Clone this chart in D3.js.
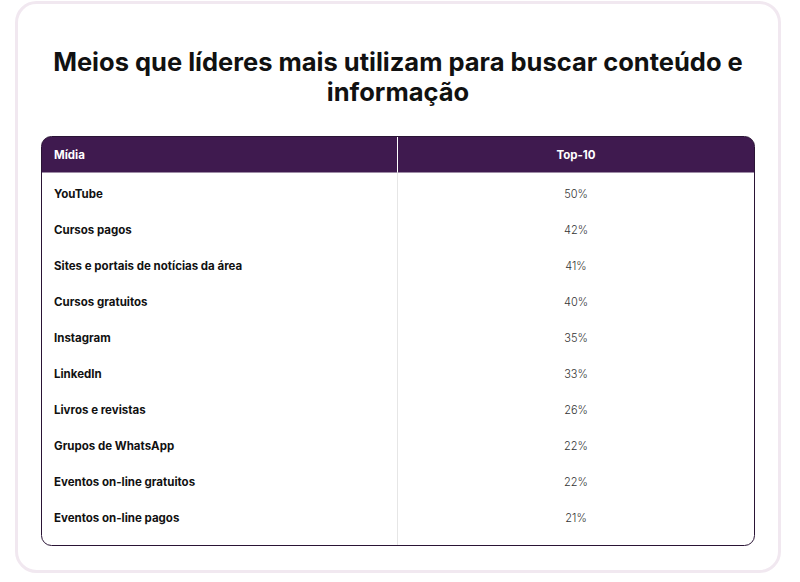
<!DOCTYPE html>
<html>
<head>
<meta charset="utf-8">
<script src="https://cdn.jsdelivr.net/npm/d3@7"></script>
<style>
  body { margin: 0; background: #ffffff; }
</style>
</head>
<body>
<div id="chart-area"></div>
<script>
// data
var midias = ["YouTube", "Cursos pagos", "Sites e portais de notícias da área", "Cursos gratuitos",
              "Instagram", "LinkedIn", "Livros e revistas", "Grupos de WhatsApp",
              "Eventos on-line gratuitos", "Eventos on-line pagos"];
var top10 = [50, 42, 41, 40, 35, 33, 26, 22, 22, 21];
var colunas = ["Mídia", "Top-10"];
var titulo = ["Meios que líderes mais utilizam para buscar conteúdo e", "informação"];

var W = 800, H = 582;
var purple = "#3f1a4f";

var svg = d3.select("#chart-area")
    .append("svg")
        .attr("width", W)
        .attr("height", H);

// card
svg.append("rect")
    .attr("x", 16.5).attr("y", 2.5)
    .attr("width", 763).attr("height", 569)
    .attr("rx", 20)
    .attr("fill", "#fff")
    .attr("stroke", "#f1e8f0")
    .attr("stroke-width", 3);

// title
svg.append("text")
    .attr("x", 398)
    .attr("text-anchor", "middle")
    .attr("font-family", "Inter, sans-serif")
    .attr("font-weight", 700)
    .attr("font-size", "25.5px")
    .attr("fill", "#111")
    .selectAll("tspan")
    .data(titulo)
    .enter().append("tspan")
        .attr("x", 398)
        .attr("y", function(d, i){ return 71 + i * 30; })
        .text(function(d){ return d; });

// table geometry
var t = { left: 41.5, right: 754.5, top: 136.5, header: 36, bottom: 545.5 };
var divX = 397.5;

var x = d3.scaleBand()
    .domain(colunas)
    .range([t.left, t.right]);

var y = d3.scaleBand()
    .domain(midias)
    .range([t.top + t.header + 3, t.top + t.header + 3 + 36 * midias.length]);

// clip for rounded table
svg.append("clipPath").attr("id", "tclip")
    .append("rect")
    .attr("x", t.left).attr("y", t.top)
    .attr("width", t.right - t.left).attr("height", t.bottom - t.top)
    .attr("rx", 10);

var g = svg.append("g").attr("clip-path", "url(#tclip)");

g.append("rect")
    .attr("x", t.left).attr("y", t.top)
    .attr("width", t.right - t.left).attr("height", t.bottom - t.top)
    .attr("fill", "#fff");

g.append("rect")
    .attr("x", t.left).attr("y", t.top)
    .attr("width", t.right - t.left).attr("height", t.header)
    .attr("fill", purple);

// column divider
g.append("line")
    .attr("x1", divX).attr("x2", divX)
    .attr("y1", t.top).attr("y2", t.top + t.header)
    .attr("stroke", "#fff");
g.append("line")
    .attr("x1", divX).attr("x2", divX)
    .attr("y1", t.top + t.header).attr("y2", t.bottom)
    .attr("stroke", "#e6e6e6");

// table border
svg.append("rect")
    .attr("x", t.left).attr("y", t.top)
    .attr("width", t.right - t.left).attr("height", t.bottom - t.top)
    .attr("rx", 10)
    .attr("fill", "none")
    .attr("stroke", "#2a1435")
    .attr("stroke-width", 1);

// header labels
svg.append("text")
    .attr("x", t.left + 12.5)
    .attr("y", t.top + t.header / 2 + 4)
    .attr("font-family", "Inter, sans-serif")
    .attr("font-weight", 700)
    .attr("font-size", "11.5px")
    .attr("fill", "#fff")
    .text(colunas[0]);

svg.append("text")
    .attr("x", (divX + t.right) / 2)
    .attr("y", t.top + t.header / 2 + 4)
    .attr("text-anchor", "middle")
    .attr("font-family", "Inter, sans-serif")
    .attr("font-weight", 700)
    .attr("font-size", "11.5px")
    .attr("fill", "#fff")
    .text(colunas[1]);

// rows
var rows = svg.selectAll("g.row")
    .data(midias)
    .enter().append("g")
        .attr("class", "row")
        .attr("transform", function(d){ return "translate(0," + (y(d) + y.bandwidth() / 2) + ")"; });

rows.append("text")
    .attr("x", t.left + 12.5)
    .attr("y", 4)
    .attr("font-family", "Inter, sans-serif")
    .attr("font-weight", 700)
    .attr("font-size", "11.5px")
    .attr("fill", "#111")
    .text(function(d){ return d; });

rows.append("text")
    .attr("x", (divX + t.right) / 2)
    .attr("y", 4)
    .attr("text-anchor", "middle")
    .attr("font-family", "Inter, sans-serif")
    .attr("font-weight", 300)
    .attr("font-size", "11px")
    .attr("fill", "#333")
    .text(function(d, i){ return top10[i] + "%"; });
</script>
</body>
</html>
